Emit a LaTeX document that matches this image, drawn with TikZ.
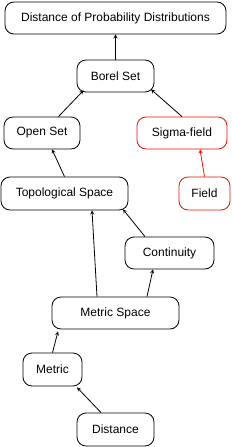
\documentclass[tikz,border=0pt]{standalone}
\usepackage{fontspec}
\setmainfont{Liberation Sans}
\definecolor{redline}{RGB}{229,20,0}
\tikzset{
  topic/.style={draw, rounded corners=9pt, line width=0.8pt, minimum height=32pt,
    inner sep=0pt, font=\fontsize{12}{14}\selectfont},
  redtopic/.style={topic, draw=redline},
}
\begin{document}
\begin{tikzpicture}[x=1pt, y=-1pt, >=stealth, line width=0.8pt]
    \useasboundingbox (0,0) rectangle (231,447);

    \node[topic, minimum width=221pt] (dpd) at (115.5,18) {Distance of Probability Distributions};
    \node[topic, minimum width=77pt] (borel) at (115.5,76) {Borel Set};
    \node[topic, minimum width=76pt] (open) at (42,133) {Open Set};
    \node[redtopic, minimum width=90pt] (sigma) at (182,133) {Sigma-field};
    \node[topic, minimum width=127pt, minimum height=33pt] (topo) at (64.5,193.5) {Topological Space};
    \node[redtopic, minimum width=51pt, minimum height=33pt] (field) at (204.5,193.5) {Field};
    \node[topic, minimum width=89pt] (cont) at (169.5,253) {Continuity};
    \node[topic, minimum width=127pt] (mspace) at (115.5,313) {Metric Space};
    \node[topic, minimum width=59pt, minimum height=33pt] (metric) at (52.5,369.5) {Metric};
    \node[topic, minimum width=77pt, minimum height=33pt] (dist) at (115.5,429.5) {Distance};

    \draw[->] (borel.north) -- (dpd.south);
    \draw[->] ([xshift=16.5pt]open.north) -- ([xshift=-32pt,yshift=2pt]borel.south);
    \draw[->] (sigma.north) -- ([xshift=35.5pt,yshift=3pt]borel.south);
    \draw[->, redline] (field.north) -- ([xshift=18pt]sigma.south);
    \draw[->] (topo.north) -- ([xshift=10pt]open.south);
    \draw[->] ([xshift=-24.5pt]cont.north) -- ([xshift=58.5pt,yshift=1pt]topo.south);
    \draw[->] ([xshift=-18.5pt]mspace.north) -- ([xshift=27.5pt]topo.south);
    \draw[->] ([xshift=31.5pt]mspace.north) -- ([xshift=-16.5pt]cont.south);
    \draw[->] (metric.north) -- ([xshift=-57.5pt,yshift=-2pt]mspace.south);
    \draw[->] ([xshift=-14.5pt]dist.north) -- ([xshift=24.5pt,yshift=-1pt]metric.south);
\end{tikzpicture}
\end{document}
